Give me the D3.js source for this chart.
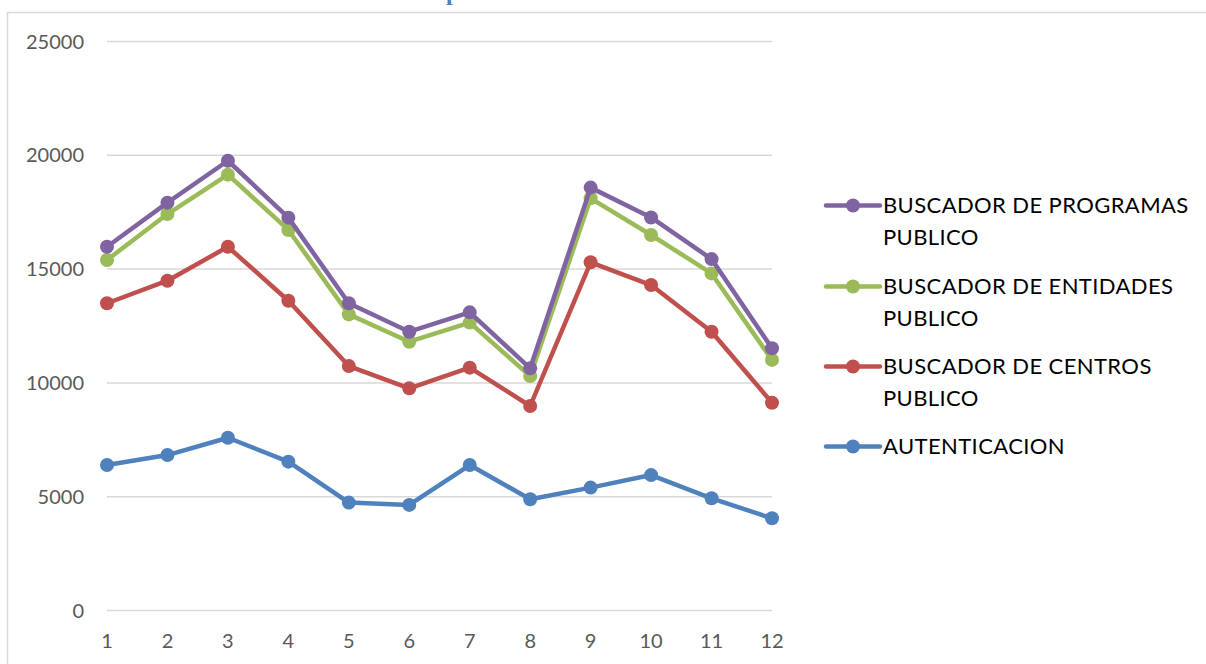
<!DOCTYPE html>
<html>
  <head>
    <meta charset="utf-8">
    <title>Chart</title>
    <script src="https://d3js.org/d3.v7.min.js"></script>
    <style>
      body { margin: 0; background: #fff; }
    </style>
  </head>
  <body>
    <div id="vis"></div>
    <script>
        const width = 1206;
        const height = 664;

        // data
        const months = [1, 2, 3, 4, 5, 6, 7, 8, 9, 10, 11, 12];
        const yTicks = [0, 5000, 10000, 15000, 20000, 25000];
        const seriesNames = ["AUTENTICACION", "BUSCADOR DE CENTROS PUBLICO", "BUSCADOR DE ENTIDADES PUBLICO", "BUSCADOR DE PROGRAMAS PUBLICO"];
        const autenticacion = [6390, 6830, 7590, 6540, 4740, 4640, 6390, 4890, 5400, 5950, 4930, 4050];
        const centros = [13500, 14490, 15980, 13610, 10740, 9760, 10670, 8985, 15300, 14300, 12250, 9130];
        const entidades = [15400, 17420, 19150, 16720, 13010, 11810, 12650, 10300, 18110, 16500, 14810, 11010];
        const programas = [15980, 17920, 19760, 17260, 13500, 12250, 13100, 10640, 18580, 17270, 15440, 11520];
        const colors = ["#4f81bd", "#c0504d", "#9bbb59", "#8064a2"];

        const allSeries = [autenticacion, centros, entidades, programas];

        const svg = d3.select("#vis").append("svg")
          .attr("width", width).attr("height", height);

        // chart frame (runs off the right and bottom edges)
        svg.append("rect")
          .attr("x", 7.5).attr("y", 12.5)
          .attr("width", 1400).attr("height", 800)
          .attr("fill", "none").attr("stroke", "#d9d9d9").attr("stroke-width", 1.5);

        // title is cut off above, only a descender shows
        svg.append("text")
          .attr("x", 446).attr("y", 0)
          .attr("font-family", "Liberation Serif").attr("font-weight", "bold")
          .attr("font-size", 24).attr("fill", "#4f81bd")
          .text("p");

        const x = d3.scaleLinear().domain([1, 12]).range([107, 772]);
        const y = d3.scaleLinear().domain([0, 25000]).range([610.5, 41.5]);

        // gridlines
        svg.append("g")
          .selectAll("line")
          .data(yTicks)
          .enter().append("line")
          .attr("x1", x(1)).attr("x2", x(12))
          .attr("y1", d => y(d)).attr("y2", d => y(d))
          .attr("stroke", "#d9d9d9").attr("stroke-width", 1.5);

        // y labels
        svg.append("g")
          .selectAll("text")
          .data(yTicks)
          .enter().append("text")
          .attr("x", 84).attr("y", d => y(d))
          .attr("dy", "0.35em")
          .attr("text-anchor", "end")
          .attr("font-family", "Lato").attr("font-size", 20)
          .attr("fill", "#595959")
          .text(d => d);

        // x labels
        svg.append("g")
          .selectAll("text")
          .data(months)
          .enter().append("text")
          .attr("x", d => x(d)).attr("y", 641)
          .attr("dy", "0.35em")
          .attr("text-anchor", "middle")
          .attr("font-family", "Lato").attr("font-size", 20)
          .attr("fill", "#595959")
          .text(d => d);

        const line = d3.line()
          .x((d, i) => x(months[i]))
          .y(d => y(d));

        allSeries.forEach(function(vals, k) {
          const g = svg.append("g");
          g.append("path")
            .datum(vals)
            .attr("d", line)
            .attr("fill", "none")
            .attr("stroke", colors[k])
            .attr("stroke-width", 4.5)
            .attr("stroke-linejoin", "round");
          g.selectAll("circle")
            .data(vals)
            .enter().append("circle")
            .attr("cx", (d, i) => x(months[i]))
            .attr("cy", d => y(d))
            .attr("r", 7)
            .attr("fill", colors[k]);
        });

        // legend, reversed order like the original
        const legendRows = [
          { k: 3, lines: ["BUSCADOR DE PROGRAMAS", "PUBLICO"], y: 205.5 },
          { k: 2, lines: ["BUSCADOR DE ENTIDADES", "PUBLICO"], y: 286.5 },
          { k: 1, lines: ["BUSCADOR DE CENTROS", "PUBLICO"], y: 366.5 },
          { k: 0, lines: ["AUTENTICACION"], y: 446.5 }
        ];

        const legend = svg.append("g");
        legendRows.forEach(function(r) {
          legend.append("line")
            .attr("x1", 826).attr("x2", 880)
            .attr("y1", r.y).attr("y2", r.y)
            .attr("stroke", colors[r.k]).attr("stroke-width", 4.5)
            .attr("stroke-linecap", "round");
          legend.append("circle")
            .attr("cx", 853).attr("cy", r.y).attr("r", 7)
            .attr("fill", colors[r.k]);
          const t = legend.append("text")
            .attr("x", 883).attr("y", r.y)
            .attr("font-family", "Lato").attr("font-size", 22)
            .attr("letter-spacing", 0.4)
            .attr("fill", "#000");
          r.lines.forEach(function(s, j) {
            t.append("tspan")
              .attr("x", 883)
              .attr("dy", j == 0 ? "0.36em" : 32)
              .text(s);
          });
        });
    </script>
  </body>
</html>
